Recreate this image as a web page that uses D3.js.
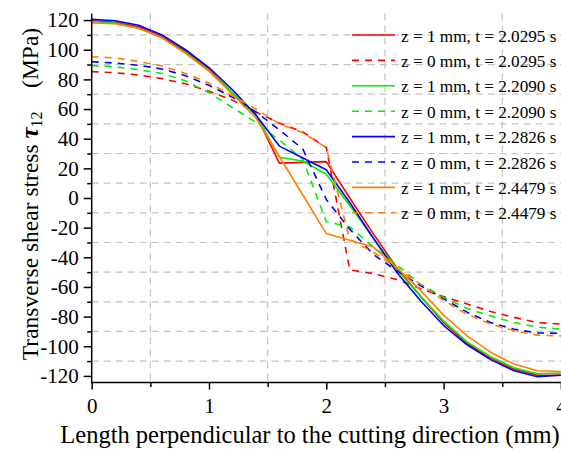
<!DOCTYPE html>
<html>
<head>
<meta charset="utf-8">
<script src="https://cdn.jsdelivr.net/npm/d3@7"></script>
<style>
  html, body { margin: 0; padding: 0; background: #fff; }
  svg { display: block; font-family: "Liberation Serif", "Times New Roman", serif; }
</style>
</head>
<body>
<svg id="chart" width="561" height="455"></svg>
<script>
// ---- data ----
const lengths = [0, 0.2, 0.4, 0.6, 0.8, 1.0, 1.2, 1.4, 1.6, 1.8, 2.0, 2.2, 2.4, 2.6, 2.8, 3.0, 3.2, 3.4, 3.6, 3.8, 4.0];

const z1_t20295 = [119.5, 118.5, 115.5, 109, 99, 87, 71, 56, 23.5, 24, 24.5, 0, -24, -47, -66, -84, -98, -108, -115.5, -119.5, -119.5];
const z0_t20295 = [85.2, 84.5, 83, 80.5, 77, 72, 66, 58, 50.5, 44.5, 34, -48.5, -51, -55, -61, -66.5, -71.5, -76.5, -80.5, -84, -85];
const z1_t22090 = [119, 118, 114.5, 108, 98, 86, 71, 56, 27.5, 25, 16, -5, -27, -48, -66, -83, -97, -107, -114.5, -118.5, -118];
const z0_t22090 = [89.2, 88.5, 86.5, 84, 79, 71, 61, 51, 39, 26, -16, -19.5, -33, -45, -58, -67, -74.5, -79.5, -84, -87, -88.5];
const z1_t22826 = [120.5, 119.5, 116.5, 110, 100, 88, 73, 56, 35, 27, 19, -3, -27, -50, -69, -86, -99, -109, -116.5, -120.5, -119.5];
const z0_t22826 = [91.9, 91, 89.5, 87, 82.5, 76, 68, 58, 46, 33, -1, -21, -38, -49, -59, -68, -77, -84, -88.5, -91, -91.2];
const z1_t24479 = [118, 117.5, 114.5, 108, 97.5, 85.5, 70, 54, 28, 2, -24, -28.5, -33, -47, -62, -79, -93, -104, -112, -116.5, -117];
const z0_t24479 = [95.3, 94.5, 92, 89, 84, 77.5, 69, 60, 50, 44, 34, -28, -36.5, -47, -58, -69, -78.5, -85, -89.5, -92.5, -93];

const seriesLabels = [
  "z = 1 mm, t = 2.0295 s", "z = 0 mm, t = 2.0295 s",
  "z = 1 mm, t = 2.2090 s", "z = 0 mm, t = 2.2090 s",
  "z = 1 mm, t = 2.2826 s", "z = 0 mm, t = 2.2826 s",
  "z = 1 mm, t = 2.4479 s", "z = 0 mm, t = 2.4479 s"
];
const seriesValues = [z1_t20295, z0_t20295, z1_t22090, z0_t22090, z1_t22826, z0_t22826, z1_t24479, z0_t24479];
const seriesColors = ["#ff0000", "#ff0000", "#00f000", "#00f000", "#0000ff", "#0000ff", "#ff8000", "#ff8000"];
const seriesDashed = [false, true, false, true, false, true, false, true];

const xTicks = [0, 1, 2, 3, 4];
const xMinorTicks = [0.5, 1.5, 2.5, 3.5];
const yTicks = [-120, -100, -80, -60, -40, -20, 0, 20, 40, 60, 80, 100, 120];
const yMinorTicks = [-110, -90, -70, -50, -30, -10, 10, 30, 50, 70, 90, 110];

const xTitle = "Length perpendicular to the cutting direction (mm)";

// ---- layout ----
const FONT = '"Liberation Serif", "Times New Roman", serif';
const svg = d3.select("#chart");
const x = d3.scaleLinear().domain([0, 4]).range([91.7, 560.9]);
const y = d3.scaleLinear().domain([-124.5, 124.5]).range([382.6, 13.4]);
const [x0, x1] = x.range();
const [yb, yt] = y.range();

// grid (at minor positions)
const grid = svg.append("g").attr("stroke", "#c4c4c4").attr("stroke-width", 1.2).attr("stroke-dasharray", "7,5");
grid.selectAll("line.h").data(yMinorTicks).join("line")
  .attr("x1", x0).attr("x2", x1).attr("y1", d => y(d)).attr("y2", d => y(d));
grid.selectAll("line.v").data(xMinorTicks).join("line")
  .attr("x1", d => x(d)).attr("x2", d => x(d)).attr("y1", yt).attr("y2", yb);

// series
const line = d3.line().x((d, i) => x(lengths[i])).y(d => y(d));
const gLines = svg.append("g").attr("fill", "none");
seriesValues.forEach((vals, i) => {
  gLines.append("path").datum(vals)
    .attr("d", line)
    .attr("stroke", seriesColors[i])
    .attr("stroke-width", 1.6)
    .attr("stroke-linejoin", "round")
    .attr("stroke-dasharray", seriesDashed[i] ? "7,6" : null);
});

// axes
const fmt = d => String(d);
const yAxis = svg.append("g").attr("transform", `translate(${x0},0)`)
  .call(d3.axisLeft(y).tickValues(yTicks).tickSize(8).tickPadding(5).tickFormat(fmt));
const yAxisMinor = svg.append("g").attr("transform", `translate(${x0},0)`)
  .call(d3.axisLeft(y).tickValues(yMinorTicks).tickSize(4.5).tickFormat(""));
const xAxis = svg.append("g").attr("transform", `translate(0,${yb})`)
  .call(d3.axisBottom(x).tickValues(xTicks).tickSize(7).tickPadding(8).tickFormat(fmt));
const xAxisMinor = svg.append("g").attr("transform", `translate(0,${yb})`)
  .call(d3.axisBottom(x).tickValues(xMinorTicks).tickSize(4.5).tickFormat(""));

[yAxis, yAxisMinor, xAxis, xAxisMinor].forEach(g => {
  g.attr("font-family", FONT).attr("font-size", 21);
  g.select(".domain").remove();
  g.selectAll(".tick line").attr("stroke", "#000").attr("stroke-width", 1.5);
  g.selectAll(".tick text").attr("fill", "#000")
    .style("font-family", FONT)
    .style("font-size", "21px");
});
svg.append("line").attr("x1", x0).attr("x2", x0).attr("y1", yt).attr("y2", yb + 0.75)
  .attr("stroke", "#000").attr("stroke-width", 1.5);
svg.append("line").attr("x1", x0 - 0.75).attr("x2", x1).attr("y1", yb).attr("y2", yb)
  .attr("stroke", "#000").attr("stroke-width", 1.5);

// axis titles
svg.append("text")
  .attr("x", 310).attr("y", 443)
  .attr("text-anchor", "middle")
  .style("font-size", "24.5px")
  .text(xTitle);

const ytl = svg.append("text")
  .attr("transform", "translate(38,194) rotate(-90)")
  .attr("text-anchor", "middle")
  .style("font-size", "23.5px");
ytl.append("tspan").text("Transverse shear stress ");
ytl.append("tspan").style("font-weight", "bold").style("font-style", "italic").style("font-size", "25px").text("τ");
ytl.append("tspan").attr("dy", 4).style("font-size", "16px").text("12");
ytl.append("tspan").attr("dy", -4).text("\u2002\u2002(MPa)");

// legend
const leg = svg.append("g");
seriesLabels.forEach((lab, i) => {
  const ly = 35 + i * 25.4;
  leg.append("line")
    .attr("x1", 352).attr("x2", 395).attr("y1", ly).attr("y2", ly)
    .attr("stroke", seriesColors[i]).attr("stroke-width", 1.6)
    .attr("stroke-dasharray", seriesDashed[i] ? "7,6" : null);
  leg.append("text")
    .attr("x", 401).attr("y", ly + 6.5)
    .style("font-size", "17.2px")
    .text(lab);
});
</script>
</body>
</html>
